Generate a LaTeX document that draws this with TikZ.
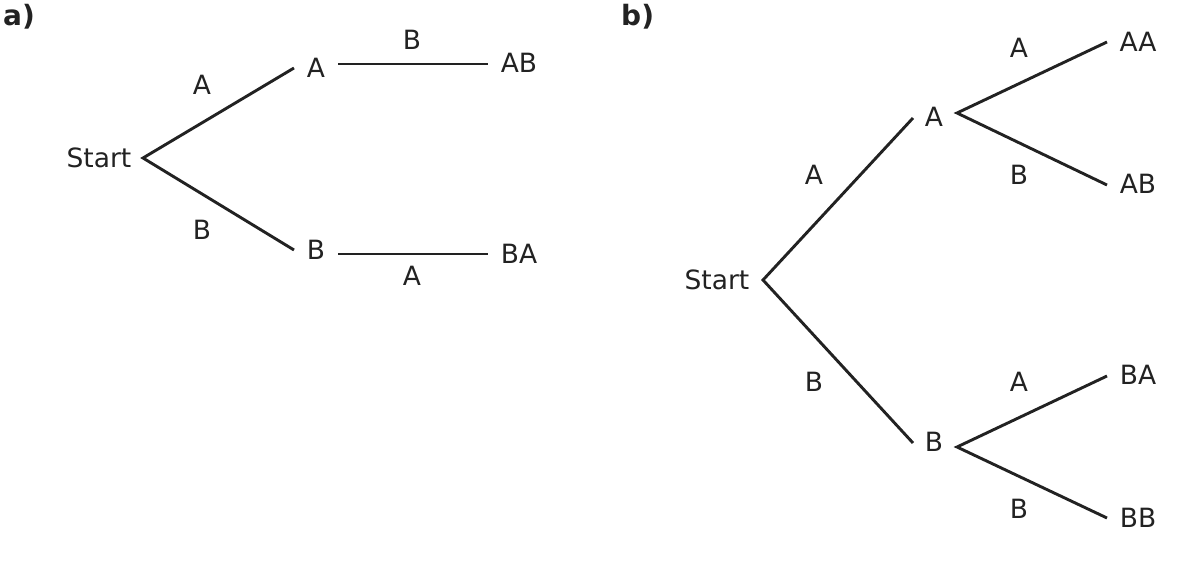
\documentclass[tikz,border=0pt]{standalone}
\usepackage{fontspec}
\setmainfont{DejaVu Sans}
\definecolor{ink}{HTML}{222222}
\begin{document}
\begin{tikzpicture}[x=1pt,y=-1pt,
  lbl/.style={inner sep=0pt,text=ink,font=\fontsize{26.5}{30}\selectfont},
  panel/.style={inner sep=0pt,text=ink,font=\fontsize{28}{32}\selectfont\bfseries,anchor=base west},
  edge/.style={draw=ink,line width=2.9pt}]
\useasboundingbox (0,0) rectangle (1191,561);
% panel a
\node[panel] (pa) at (3,26) {a)};
\node[lbl] (sa) at (99,158) {Start};
\node[lbl] (ea1) at (202,85) {A};
\node[lbl] (ea2) at (202,230) {B};
\node[lbl] (na) at (316,68) {A};
\node[lbl] (nb) at (316,250) {B};
\node[lbl] (ea3) at (412,40) {B};
\node[lbl] (ea4) at (412,276) {A};
\node[lbl] (nab) at (519,63) {AB};
\node[lbl] (nba) at (519,254) {BA};
\coordinate (a0) at (143,158);
\coordinate (a1) at (294,68);
\coordinate (a2) at (294,250);
\coordinate (a3) at (338,64);
\coordinate (a4) at (488,64);
\coordinate (a5) at (338,254);
\coordinate (a6) at (488,254);
\draw[edge] (a1) -- (a0) -- (a2);
\draw[edge] (a3) -- (a4);
\draw[edge] (a5) -- (a6);
% panel b
\node[panel] (pb) at (621,26) {b)};
\node[lbl] (sb) at (717,280) {Start};
\node[lbl] (eb1) at (814,175) {A};
\node[lbl] (eb2) at (814,382) {B};
\node[lbl] (mA) at (934,117) {A};
\node[lbl] (mB) at (934,442) {B};
\node[lbl] (eb3) at (1019,48) {A};
\node[lbl] (eb4) at (1019,175) {B};
\node[lbl] (eb5) at (1019,382) {A};
\node[lbl] (eb6) at (1019,509) {B};
\node[lbl] (nAA) at (1138,42) {AA};
\node[lbl] (nAB) at (1138,184) {AB};
\node[lbl] (nBA) at (1138,375) {BA};
\node[lbl] (nBB) at (1138,518) {BB};
\coordinate (b0) at (763,280);
\coordinate (b1) at (913,118);
\coordinate (b2) at (913,443);
\coordinate (b3) at (957,113);
\coordinate (b4) at (1107,42);
\coordinate (b5) at (1107,185);
\coordinate (b6) at (957,447);
\coordinate (b7) at (1107,376);
\coordinate (b8) at (1107,518);
\draw[edge] (b1) -- (b0) -- (b2);
\draw[edge] (b4) -- (b3) -- (b5);
\draw[edge] (b7) -- (b6) -- (b8);
\end{tikzpicture}
\end{document}
